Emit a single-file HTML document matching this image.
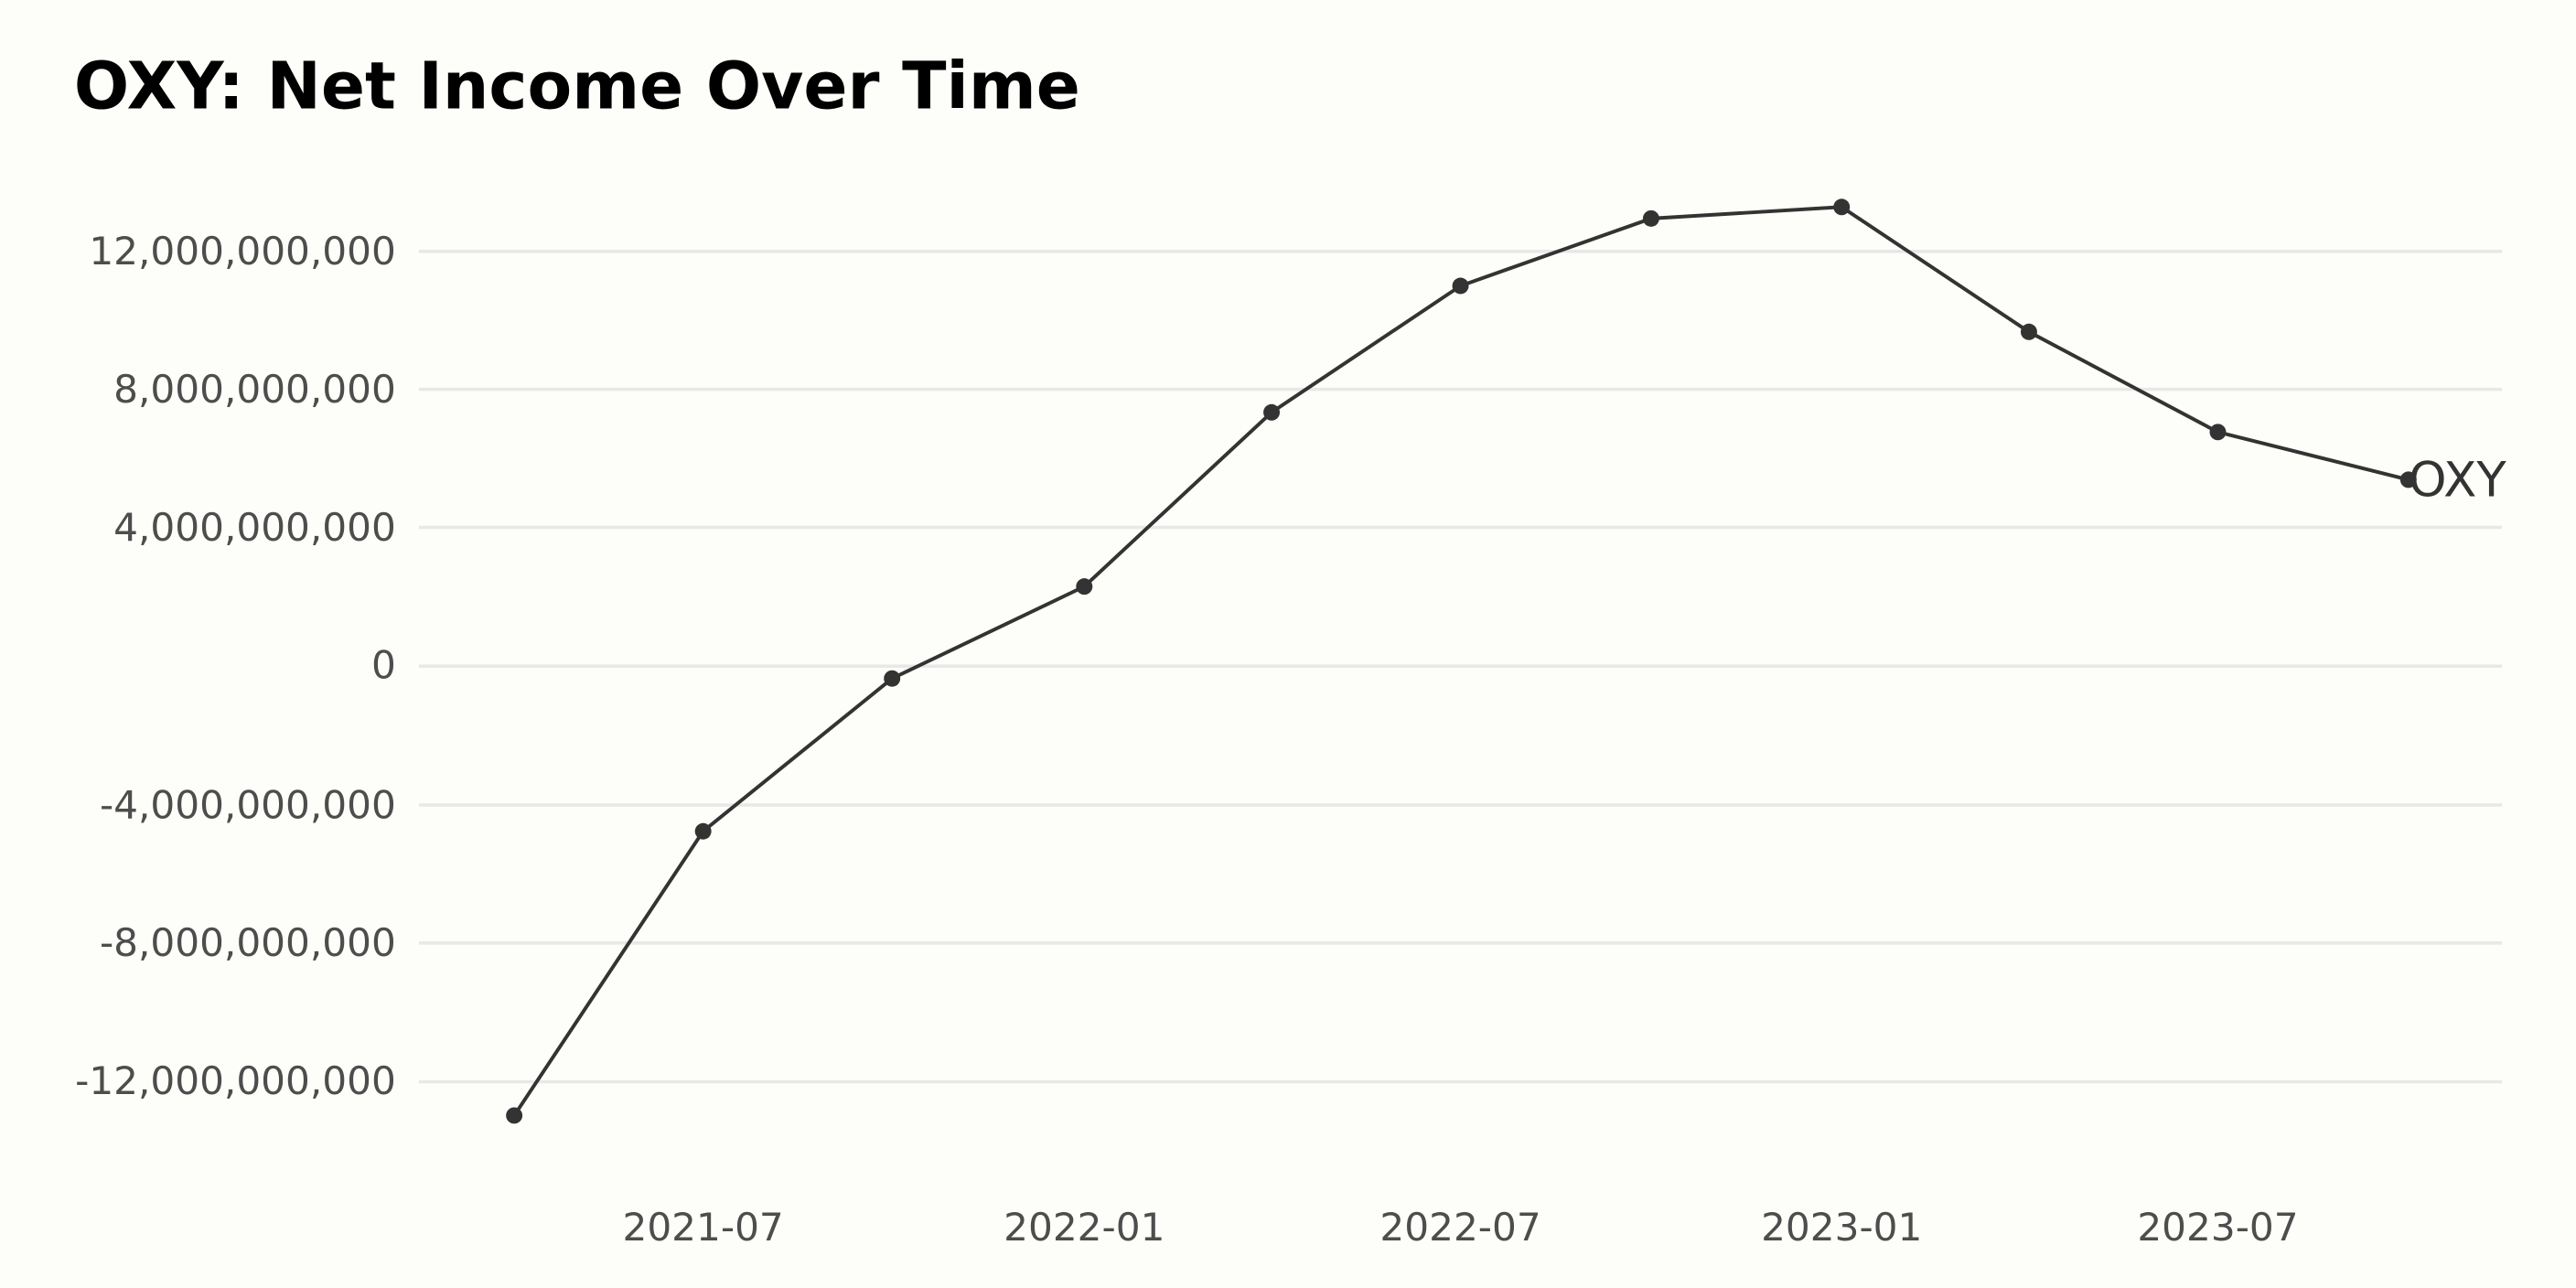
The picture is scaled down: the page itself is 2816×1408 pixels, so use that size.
<!DOCTYPE html>
<html><head><meta charset="utf-8"><style>
html,body{margin:0;padding:0;background:#fdfdf9;}
svg{display:block;}
</style></head><body>
<svg width="2816" height="1408" viewBox="0 0 1568 784" xmlns="http://www.w3.org/2000/svg" font-family="'DejaVu Sans','Liberation Sans',sans-serif">
<rect width="1568" height="784" fill="#fdfdf9"/>
<text x="45" y="66" font-size="39.5" font-weight="bold" fill="#000">OXY: Net Income Over Time</text>
<g stroke="#e8e8e8" stroke-width="2">
<line x1="255" x2="1523" y1="153" y2="153"/>
<line x1="255" x2="1523" y1="237" y2="237"/>
<line x1="255" x2="1523" y1="321" y2="321"/>
<line x1="255" x2="1523" y1="405.5" y2="405.5"/>
<line x1="255" x2="1523" y1="490" y2="490"/>
<line x1="255" x2="1523" y1="574" y2="574"/>
<line x1="255" x2="1523" y1="658.5" y2="658.5"/>
</g>
<g font-size="23.5" fill="#4d4d4d" text-anchor="end">
<text x="241" y="161">12,000,000,000</text>
<text x="241" y="245">8,000,000,000</text>
<text x="241" y="329">4,000,000,000</text>
<text x="241" y="413">0</text>
<text x="241" y="498">-4,000,000,000</text>
<text x="241" y="582">-8,000,000,000</text>
<text x="241" y="666">-12,000,000,000</text>
</g>
<g font-size="23.5" fill="#4d4d4d" text-anchor="middle">
<text x="428" y="755">2021-07</text>
<text x="660" y="755">2022-01</text>
<text x="889" y="755">2022-07</text>
<text x="1121" y="755">2023-01</text>
<text x="1350" y="755">2023-07</text>
</g>
<polyline fill="none" stroke="#333" stroke-width="2.2" points="313,679 428,506 543,413 660,357 774,251 889,174 1005,133 1121,126 1235,202 1350,263 1466,292"/>
<g fill="#333">
<circle cx="313" cy="679" r="5"/><circle cx="428" cy="506" r="5"/><circle cx="543" cy="413" r="5"/><circle cx="660" cy="357" r="5"/><circle cx="774" cy="251" r="5"/><circle cx="889" cy="174" r="5"/><circle cx="1005" cy="133" r="5"/><circle cx="1121" cy="126" r="5"/><circle cx="1235" cy="202" r="5"/><circle cx="1350" cy="263" r="5"/><circle cx="1466" cy="292" r="5"/>
</g>
<text x="1466" y="302" font-size="29.5" fill="#333">OXY</text>
</svg>
</body></html>
